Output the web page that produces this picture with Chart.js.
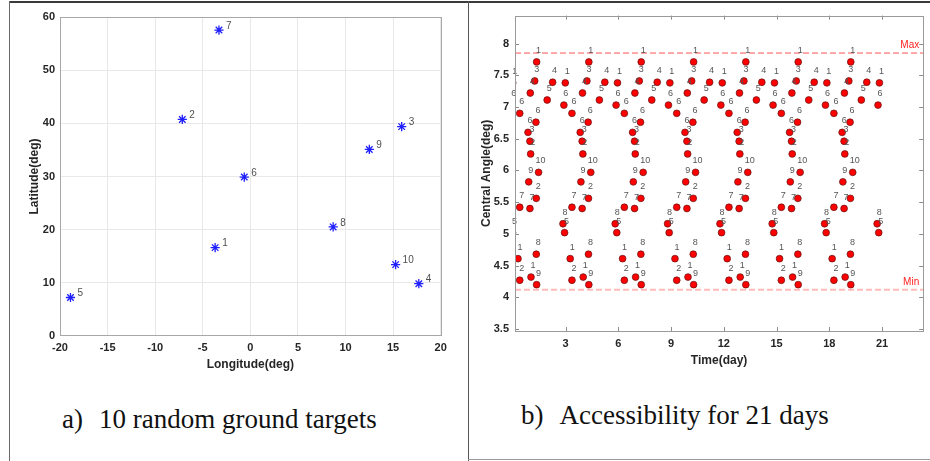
<!DOCTYPE html>
<html>
<head>
<meta charset="utf-8">
<script src="https://cdn.jsdelivr.net/npm/chart.js@4.4.1/dist/chart.umd.min.js"></script>
<style>
  html, body { margin: 0; padding: 0; background: #fff; }
  body { width: 930px; height: 461px; position: relative; overflow: hidden; }
  canvas { position: absolute; }
  #chartA { left: 10px; top: 3px; }
  #chartB { left: 470px; top: 3px; }
  .line { position: absolute; }
  .caption { position: absolute; font-family: "Liberation Serif", "Times New Roman", serif; font-size: 27px; line-height: 27px; color: #111; white-space: nowrap; }
  .caption span { margin-left: 16px; }
</style>
</head>
<body>
<div class="line" style="left:9px;top:1px;width:921px;height:2px;background:#3a3a3a"></div>
<div class="line" style="left:9px;top:1px;width:1px;height:460px;background:#6a6a6a"></div>
<div class="line" style="left:468px;top:1px;width:1px;height:460px;background:#555"></div>
<div class="line" style="left:468px;top:459px;width:462px;height:1px;background:#999"></div>

<canvas id="chartA" width="450" height="380"></canvas>
<canvas id="chartB" width="458" height="390"></canvas>

<div class="caption" style="left:62px;top:406px">a)<span>10 random ground targets</span></div>
<div class="caption" style="left:521px;top:402px">b)<span>Accessibility for 21 days</span></div>

<script>
// a) ground targets
const targetIds = [1, 2, 3, 4, 5, 6, 7, 8, 9, 10];
const longitudes = [-3.7, -7.15, 15.9, 17.7, -18.9, -0.64, -3.3, 8.7, 12.5, 15.26];
const latitudes = [16.6, 40.75, 39.4, 9.8, 7.2, 29.9, 57.6, 20.5, 35.1, 13.4];

// b) central angle of each access, one day list per ~3 day revisit cycle
const passAngles = [4.61, 4.27, 5.42, 6.90, 6.60, 5.82, 6.46, 5.40, 7.22, 6.26, 4.32, 7.41,
                    6.76, 5.56, 4.68, 7.71, 4.20, 5.97, 7.11, 7.39, 5.16, 7.03, 5.02, 7.38];
const passTargets = [1, 2, 7, 6, 6, 9, 3, 7, 4, 2, 1, 3, 6, 2, 8, 1, 9, 10, 5, 4, 8, 6, 5, 1];
const passDays1 = [0.29, 0.39, 0.39, 0.39, 0.86, 0.90, 0.97, 0.97, 0.99, 1.01, 1.03, 1.24,
                   1.31, 1.33, 1.33, 1.35, 1.35, 1.46, 1.95, 2.26, 2.85, 2.90, 2.94, 2.98];
const passDays2 = [3.26, 3.36, 3.36, 3.36, 3.83, 3.87, 3.94, 3.94, 3.96, 3.98, 4.00, 4.21,
                   4.28, 4.30, 4.30, 4.32, 4.32, 4.43, 4.92, 5.23, 5.82, 5.87, 5.91, 5.95];
const passDays3 = [6.24, 6.34, 6.34, 6.34, 6.81, 6.85, 6.92, 6.92, 6.94, 6.96, 6.98, 7.19,
                   7.26, 7.28, 7.28, 7.30, 7.30, 7.41, 7.90, 8.21, 8.80, 8.85, 8.89, 8.93];
const passDays4 = [9.22, 9.32, 9.32, 9.32, 9.79, 9.83, 9.90, 9.90, 9.92, 9.94, 9.96, 10.17,
                   10.24, 10.26, 10.26, 10.28, 10.28, 10.39, 10.88, 11.19, 11.78, 11.83, 11.87, 11.91];
const passDays5 = [12.19, 12.29, 12.29, 12.29, 12.76, 12.80, 12.87, 12.87, 12.89, 12.91, 12.93, 13.14,
                   13.21, 13.23, 13.23, 13.25, 13.25, 13.36, 13.85, 14.16, 14.75, 14.80, 14.84, 14.88];
const passDays6 = [15.17, 15.27, 15.27, 15.27, 15.74, 15.78, 15.85, 15.85, 15.87, 15.89, 15.91, 16.12,
                   16.19, 16.21, 16.21, 16.23, 16.23, 16.34, 16.83, 17.14, 17.73, 17.78, 17.82, 17.86];
const passDays7 = [18.16, 18.26, 18.26, 18.26, 18.73, 18.77, 18.84, 18.84, 18.86, 18.88, 18.90, 19.11,
                   19.18, 19.20, 19.20, 19.22, 19.22, 19.33, 19.82, 20.13, 20.72, 20.77, 20.81, 20.85];
// accesses just before the plotted window (only their labels show)
const edgeDays = [-0.01, -0.06, -0.02];
const edgeAngles = [7.38, 7.03, 5.02];
const edgeTargets = [1, 6, 5];

const maxAngle = 7.85;
const minAngle = 4.12;
const dayTicks = [3, 6, 9, 12, 15, 18, 21];
const angleTicks = [3.5, 4, 4.5, 5, 5.5, 6, 6.5, 7, 7.5, 8];

Chart.defaults.font.family = "'Liberation Sans', Arial, sans-serif";
Chart.defaults.color = '#262626';

// numbers next to each marker
const pointText = {
  id: 'pointText',
  afterDatasetsDraw(chart, args, opts) {
    const { ctx, scales: { x, y } } = chart;
    ctx.save();
    ctx.font = opts.font;
    ctx.fillStyle = opts.color;
    ctx.textAlign = opts.align;
    ctx.textBaseline = 'middle';
    chart.data.datasets.forEach(ds => {
      if (!ds.targets) return;
      ds.data.forEach((p, i) => {
        ctx.fillText(String(ds.targets[i]), x.getPixelForValue(p.x) + opts.dx, y.getPixelForValue(p.y) + opts.dy);
      });
    });
    ctx.restore();
  }
};

// matlab style box with inward ticks
const frameBox = {
  id: 'frameBox',
  afterDraw(chart, args, opts) {
    const { ctx, chartArea: a, scales: { x, y } } = chart;
    ctx.save();
    ctx.strokeStyle = opts.tickColor;
    ctx.lineWidth = 1;
    ctx.beginPath();
    if (opts.tickLen) {
      x.ticks.forEach(t => {
        const px = Math.round(x.getPixelForValue(t.value)) + 0.5;
        ctx.moveTo(px, a.bottom); ctx.lineTo(px, a.bottom - opts.tickLen);
        ctx.moveTo(px, a.top); ctx.lineTo(px, a.top + opts.tickLen);
      });
      y.ticks.forEach(t => {
        const py = Math.round(y.getPixelForValue(t.value)) + 0.5;
        ctx.moveTo(a.left, py); ctx.lineTo(a.left + opts.tickLen, py);
        ctx.moveTo(a.right, py); ctx.lineTo(a.right - opts.tickLen, py);
      });
    }
    ctx.stroke();
    ctx.strokeStyle = opts.color;
    ctx.strokeRect(Math.round(a.left) + 0.5, Math.round(a.top) + 0.5,
                   Math.round(a.right - a.left), Math.round(a.bottom - a.top));
    // Max / Min captions
    if (opts.marks) {
      ctx.fillStyle = '#ff2020';
      ctx.font = "10px 'Liberation Sans', Arial, sans-serif";
      ctx.textAlign = 'right';
      ctx.textBaseline = 'middle';
      ctx.fillText('Max', a.right - 4, y.getPixelForValue(maxAngle) - 8);
      ctx.fillText('Min', a.right - 4, y.getPixelForValue(minAngle) - 8);
    }
    ctx.restore();
  }
};

const tickFont = { size: 11, weight: 'bold' };
const titleFont = { size: 12, weight: 'bold' };

new Chart(document.getElementById('chartA'), {
  type: 'scatter',
  data: {
    datasets: [{
      data: longitudes.map((lon, i) => ({ x: lon, y: latitudes[i] })),
      targets: targetIds,
      pointStyle: 'star',
      pointRadius: 4.6,
      borderWidth: 1.3,
      borderColor: '#1f1fff',
      backgroundColor: '#1f1fff'
    }]
  },
  options: {
    responsive: false,
    animation: false,
    layout: { padding: { left: 0, right: 19.3, top: 14.3, bottom: 0 } },
    plugins: {
      legend: { display: false },
      tooltip: { enabled: false },
      pointText: { font: "10px 'Liberation Sans', Arial, sans-serif", color: '#505050', align: 'left', dx: 7, dy: -4 },
      frameBox: { color: '#a8a8a8', tickColor: '#a8a8a8', tickLen: 0 }
    },
    scales: {
      x: {
        type: 'linear', min: -20, max: 20,
        ticks: { stepSize: 5, padding: 6, font: tickFont, color: '#262626' },
        grid: { color: '#e8e8e8', drawTicks: false },
        border: { display: false },
        title: { display: true, text: 'Longitude(deg)', font: titleFont, color: '#262626', padding: { top: 0, bottom: 11.4 } },
        afterFit: s => { s.height = 47.3; }
      },
      y: {
        type: 'linear', min: 0, max: 60,
        ticks: { stepSize: 10, padding: 5, font: tickFont, color: '#262626' },
        grid: { color: '#e8e8e8', drawTicks: false },
        border: { display: false },
        title: { display: true, text: 'Latitude(deg)', font: titleFont, color: '#262626', padding: { top: 17.4, bottom: 0 } },
        afterFit: s => { s.width = 50; }
      }
    }
  },
  plugins: [frameBox, pointText]
});

const passDays = [passDays1, passDays2, passDays3, passDays4, passDays5, passDays6, passDays7];
const dotStyle = {
  pointRadius: 3.4,
  borderWidth: 0.8,
  backgroundColor: '#ff0000',
  borderColor: 'rgba(90,20,20,0.85)'
};
const passSets = passDays.map(days => Object.assign({
  data: days.map((d, i) => ({ x: d, y: passAngles[i] })),
  targets: passTargets
}, dotStyle));
passSets.push(Object.assign({
  data: edgeDays.map((d, i) => ({ x: d, y: edgeAngles[i] })),
  targets: edgeTargets
}, dotStyle));

const dayMin = 0.12, dayMax = 23.34;

new Chart(document.getElementById('chartB'), {
  type: 'scatter',
  data: {
    datasets: passSets.concat([
      {
        data: [{ x: dayMin, y: maxAngle }, { x: dayMax, y: maxAngle }],
        showLine: true, pointRadius: 0, borderWidth: 1,
        borderColor: 'rgba(255,40,40,0.8)', borderDash: [6, 3]
      },
      {
        data: [{ x: dayMin, y: minAngle }, { x: dayMax, y: minAngle }],
        showLine: true, pointRadius: 0, borderWidth: 2,
        borderColor: 'rgba(255,80,80,0.4)', borderDash: [6, 3]
      }
    ])
  },
  options: {
    responsive: false,
    animation: false,
    layout: { padding: { left: 0, right: 4, top: 11, bottom: 0 } },
    plugins: {
      legend: { display: false },
      tooltip: { enabled: false },
      pointText: { font: "9px 'Liberation Sans', Arial, sans-serif", color: '#555', align: 'center', dx: 2, dy: -11.5 },
      frameBox: { color: '#9a9a9a', tickColor: '#8a8a8a', tickLen: 4, marks: true }
    },
    scales: {
      x: {
        type: 'linear', min: dayMin, max: dayMax,
        afterBuildTicks: s => { s.ticks = dayTicks.map(v => ({ value: v })); },
        ticks: { padding: 6, font: tickFont, color: '#262626', callback: v => String(v) },
        grid: { display: false, drawTicks: false },
        border: { display: false },
        title: { display: true, text: 'Time(day)', font: titleFont, color: '#262626', padding: { top: 0, bottom: 25.5 } },
        afterFit: s => { s.height = 62; }
      },
      y: {
        type: 'linear', min: 3.47, max: 8.44,
        afterBuildTicks: s => { s.ticks = angleTicks.map(v => ({ value: v })); },
        ticks: { padding: 6, font: tickFont, color: '#262626', callback: v => String(v) },
        grid: { display: false, drawTicks: false },
        border: { display: false },
        title: { display: true, text: 'Central Angle(deg)', font: titleFont, color: '#262626', padding: { top: 9.4, bottom: 0 } },
        afterFit: s => { s.width = 45; }
      }
    }
  },
  plugins: [frameBox, pointText]
});
</script>
</body>
</html>
